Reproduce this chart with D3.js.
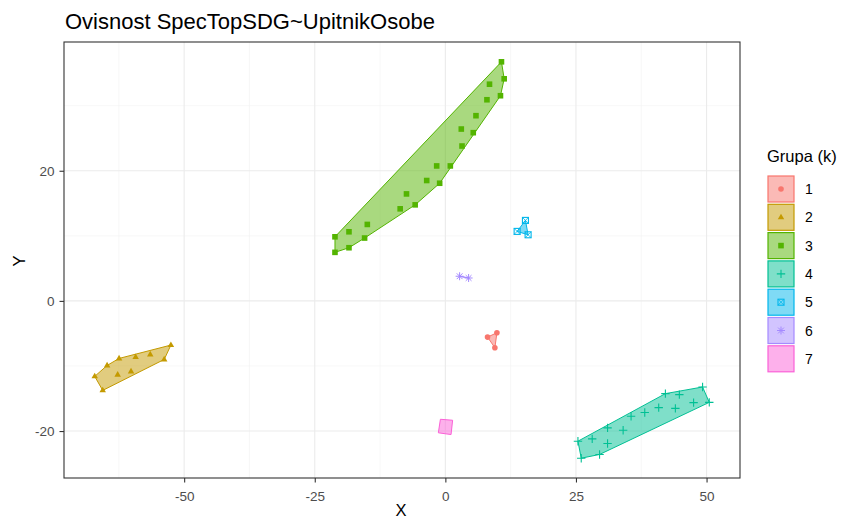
<!DOCTYPE html>
<html>
<head>
<meta charset="utf-8">
<script src="https://cdn.jsdelivr.net/npm/d3@7"></script>
<style>
  body { margin: 0; background: #fff; }
  text { font-family: "Liberation Sans", Arial, sans-serif; }
</style>
</head>
<body>
<div id="chart"></div>
<script>
// group labels and colours (ggplot hue palette)
var groups = ['1', '2', '3', '4', '5', '6', '7'];
var colors = ['#F8766D', '#C49A00', '#53B400', '#00C094', '#00B6EB', '#A58AFF', '#FB61D7'];
var shapes = ['circle', 'triangle', 'square', 'plus', 'squarecross', 'asterisk', 'none'];

// points per group, [x, y]
var g1 = [[9.87, -4.90], [8.07, -5.56], [9.48, -7.20]];
var g2 = [[-52.54, -6.79], [-53.82, -9.00], [-56.49, -8.23], [-59.29, -8.63], [-62.46, -8.84],
  [-64.75, -9.92], [-67.12, -11.60], [-65.59, -13.75], [-62.73, -11.34], [-60.17, -10.84]];
var g3 = [[10.74, 36.74], [11.26, 34.13], [8.45, 33.30], [10.55, 31.53], [7.96, 30.91],
  [5.86, 28.46], [3.05, 26.41], [5.34, 25.85], [3.19, 23.80], [-1.66, 20.74], [0.95, 20.74],
  [-3.57, 18.50], [-1.09, 18.08], [-7.44, 16.44], [-5.78, 14.76], [-8.65, 14.15],
  [-14.94, 11.75], [-18.45, 10.62], [-21.13, 9.85], [-15.46, 9.66], [-18.45, 8.17], [-21.13, 7.46]];
var g4 = [[49.24, -13.23], [50.52, -15.59], [47.52, -15.63], [44.79, -14.41], [42.12, -14.25],
  [44.03, -16.51], [40.84, -16.40], [38.17, -17.16], [35.55, -17.73], [34.03, -19.88],
  [31.05, -19.51], [28.11, -21.20], [31.05, -21.92], [25.38, -21.56], [29.52, -23.60], [26.01, -24.17]];
var g5 = [[15.33, 12.37], [13.74, 10.68], [15.84, 10.16]];
var g6 = [[2.73, 3.79], [4.45, 3.52]];
var g7 = [[-0.95, -18.19], [1.39, -18.34], [1.09, -20.54], [-1.34, -20.27]];
var groupPoints = [g1, g2, g3, g4, g5, g6, g7];

var xTicks = [-50, -25, 0, 25, 50];
var yTicks = [-20, 0, 20];
var xMinor = [-62.5, -37.5, -12.5, 12.5, 37.5];
var yMinor = [-10, 10, 30];

var W = 843, H = 520;
var panel = {left: 64, right: 740, top: 42, bottom: 478};
var font = '"Liberation Sans", Arial, sans-serif';

var svg = d3.select('#chart').append('svg')
  .attr('width', W)
  .attr('height', H);

var all = [].concat.apply([], groupPoints);
var xExt = d3.extent(all, function(d) { return d[0]; });
var yExt = d3.extent(all, function(d) { return d[1]; });
var xPad = (xExt[1] - xExt[0]) * 0.05, yPad = (yExt[1] - yExt[0]) * 0.05;

var x = d3.scaleLinear()
  .domain([xExt[0] - xPad, xExt[1] + xPad])
  .range([panel.left, panel.right]);
var y = d3.scaleLinear()
  .domain([yExt[0] - yPad, yExt[1] + yPad])
  .range([panel.bottom, panel.top]);

// grid
var grid = svg.append('g');
grid.selectAll('.xminor').data(xMinor).enter().append('line')
  .attr('x1', function(d) { return x(d); }).attr('x2', function(d) { return x(d); })
  .attr('y1', panel.top).attr('y2', panel.bottom)
  .attr('stroke', '#F2F2F2').attr('stroke-width', 0.6);
grid.selectAll('.yminor').data(yMinor).enter().append('line')
  .attr('y1', function(d) { return y(d); }).attr('y2', function(d) { return y(d); })
  .attr('x1', panel.left).attr('x2', panel.right)
  .attr('stroke', '#F2F2F2').attr('stroke-width', 0.6);
grid.selectAll('.xmajor').data(xTicks).enter().append('line')
  .attr('x1', function(d) { return x(d); }).attr('x2', function(d) { return x(d); })
  .attr('y1', panel.top).attr('y2', panel.bottom)
  .attr('stroke', '#EBEBEB').attr('stroke-width', 1.1);
grid.selectAll('.ymajor').data(yTicks).enter().append('line')
  .attr('y1', function(d) { return y(d); }).attr('y2', function(d) { return y(d); })
  .attr('x1', panel.left).attr('x2', panel.right)
  .attr('stroke', '#EBEBEB').attr('stroke-width', 1.1);

// hulls (two points -> just a segment)
var hulls = svg.append('g');
groupPoints.forEach(function(pts, i) {
  var px = pts.map(function(d) { return [x(d[0]), y(d[1])]; });
  var hull = d3.polygonHull(px) || px;
  hulls.append('path')
    .attr('d', 'M' + hull.join('L') + 'Z')
    .attr('fill', colors[i])
    .attr('fill-opacity', 0.5)
    .attr('stroke', colors[i])
    .attr('stroke-width', 1)
    .attr('stroke-linejoin', 'round');
});

function drawShape(g, shape, cx, cy, col, s) {
  s = s || 1;
  if (shape === 'circle') {
    g.append('circle').attr('cx', cx).attr('cy', cy).attr('r', 2.8 * s).attr('fill', col);
  } else if (shape === 'triangle') {
    var r = 3.6 * s;
    g.append('path')
      .attr('d', 'M' + cx + ',' + (cy - r) + 'L' + (cx + r * 0.9) + ',' + (cy + r * 0.55) +
        'L' + (cx - r * 0.9) + ',' + (cy + r * 0.55) + 'Z')
      .attr('fill', col);
  } else if (shape === 'square') {
    var h = 2.8 * s;
    g.append('rect').attr('x', cx - h).attr('y', cy - h).attr('width', 2 * h).attr('height', 2 * h)
      .attr('fill', col);
  } else if (shape === 'plus') {
    var p = 4.2 * s;
    g.append('path')
      .attr('d', 'M' + (cx - p) + ',' + cy + 'H' + (cx + p) + 'M' + cx + ',' + (cy - p) + 'V' + (cy + p))
      .attr('stroke', col).attr('stroke-width', 1.1).attr('fill', 'none');
  } else if (shape === 'squarecross') {
    var q = 3 * s;
    g.append('rect').attr('x', cx - q).attr('y', cy - q).attr('width', 2 * q).attr('height', 2 * q)
      .attr('fill', 'none').attr('stroke', col).attr('stroke-width', 1.1);
    g.append('path')
      .attr('d', 'M' + (cx - q) + ',' + (cy - q) + 'L' + (cx + q) + ',' + (cy + q) +
        'M' + (cx + q) + ',' + (cy - q) + 'L' + (cx - q) + ',' + (cy + q))
      .attr('stroke', col).attr('stroke-width', 0.8).attr('fill', 'none');
  } else if (shape === 'asterisk') {
    var a = 4 * s, b = a * 0.72;
    g.append('path')
      .attr('d', 'M' + (cx - a) + ',' + cy + 'H' + (cx + a) + 'M' + cx + ',' + (cy - a) + 'V' + (cy + a) +
        'M' + (cx - b) + ',' + (cy - b) + 'L' + (cx + b) + ',' + (cy + b) +
        'M' + (cx + b) + ',' + (cy - b) + 'L' + (cx - b) + ',' + (cy + b))
      .attr('stroke', col).attr('stroke-width', 1).attr('fill', 'none');
  }
}

// points
var pointsG = svg.append('g');
groupPoints.forEach(function(pts, i) {
  pts.forEach(function(d) {
    drawShape(pointsG, shapes[i], x(d[0]), y(d[1]), colors[i]);
  });
});

// panel border
svg.append('rect')
  .attr('x', panel.left).attr('y', panel.top)
  .attr('width', panel.right - panel.left).attr('height', panel.bottom - panel.top)
  .attr('fill', 'none').attr('stroke', '#333333').attr('stroke-width', 1.1);

// axes (plain hyphen for negatives, like R)
var fmt = function(d) { return String(d); };
var xAxis = svg.append('g')
  .attr('transform', 'translate(0,' + panel.bottom + ')')
  .call(d3.axisBottom(x).tickValues(xTicks).tickSize(4.5).tickPadding(3).tickFormat(fmt));
var yAxis = svg.append('g')
  .attr('transform', 'translate(' + panel.left + ',0)')
  .call(d3.axisLeft(y).tickValues(yTicks).tickSize(4.5).tickPadding(5).tickFormat(fmt));
[xAxis, yAxis].forEach(function(ax) {
  ax.select('.domain').remove();
  ax.selectAll('.tick line').attr('stroke', '#333333').attr('stroke-width', 1.1);
  ax.selectAll('.tick text').attr('fill', '#4D4D4D')
    .style('font-size', '13.5px')
    .style('font-family', font);
});
xAxis.selectAll('.tick text').attr('y', 22.5).attr('dy', 0);

// axis titles
svg.append('text')
  .attr('x', 401).attr('y', 516)
  .attr('text-anchor', 'middle')
  .style('font-size', '16.5px')
  .text('X');
svg.append('text')
  .attr('transform', 'translate(25,' + 261 + ') rotate(-90)')
  .attr('text-anchor', 'middle')
  .style('font-size', '16.5px')
  .text('Y');

// title
svg.append('text')
  .attr('x', panel.left + 1).attr('y', 29)
  .style('font-size', '22px')
  .attr('fill', '#000')
  .text('Ovisnost SpecTopSDG~UpitnikOsobe');

// legend
var legend = svg.append('g').attr('transform', 'translate(767,0)');
legend.append('text')
  .attr('x', 0).attr('y', 162)
  .style('font-size', '16.5px')
  .text('Grupa (k)');
groups.forEach(function(gname, i) {
  var top = 176 + i * 28.3;
  var key = legend.append('g');
  key.append('rect')
    .attr('x', 1).attr('y', top)
    .attr('width', 26).attr('height', 26)
    .attr('fill', colors[i]).attr('fill-opacity', 0.5)
    .attr('stroke', colors[i]).attr('stroke-width', 1.2);
  drawShape(key, shapes[i], 14, top + 13, colors[i], 1);
  legend.append('text')
    .attr('x', 38).attr('y', top + 13)
    .attr('dy', '0.36em')
    .style('font-size', '14px')
    .text(gname);
});
</script>
</body>
</html>
